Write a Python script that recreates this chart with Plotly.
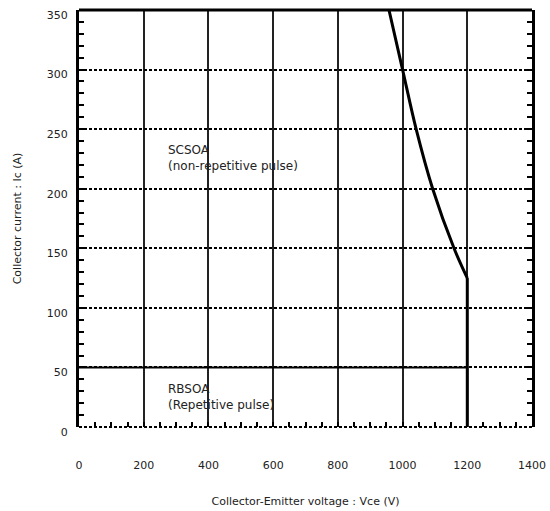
import plotly.graph_objects as go

# SCSOA boundary (non-repetitive pulse): curved part, then vertical drop at 1200 V
sc_curve_vce = [958, 1000, 1042, 1093, 1159, 1200]
sc_curve_ic = [350, 300, 250, 200, 150, 125]
sc_drop_vce = [1200, 1200]
sc_drop_ic = [125, 0]

# RBSOA boundary (repetitive pulse)
rb_vce = [0, 1200, 1200]
rb_ic = [50, 50, 0]

x_ticks = [0, 200, 400, 600, 800, 1000, 1200, 1400]
y_ticks = [0, 50, 100, 150, 200, 250, 300, 350]

FONT = "DejaVu Sans, Liberation Sans, Arial, sans-serif"
TXT = "#222222"

fig = go.Figure()
fig.add_trace(go.Scatter(x=rb_vce, y=rb_ic, mode="lines",
                         line=dict(color="black", width=2), showlegend=False,
                         hoverinfo="skip"))
fig.add_trace(go.Scatter(x=sc_curve_vce, y=sc_curve_ic, mode="lines",
                         line=dict(color="black", width=3, shape="spline", smoothing=1.0),
                         showlegend=False, hoverinfo="skip"))
fig.add_trace(go.Scatter(x=sc_drop_vce, y=sc_drop_ic, mode="lines",
                         line=dict(color="black", width=3), showlegend=False,
                         hoverinfo="skip"))

fig.add_annotation(x=270, y=226, xref="x", yref="y", xanchor="left", yanchor="middle",
                   align="left", showarrow=False,
                   text="SCSOA<br>(non-repetitive pulse)",
                   font=dict(family=FONT, size=12, color=TXT))
fig.add_annotation(x=270, y=25, xref="x", yref="y", xanchor="left", yanchor="middle",
                   align="left", showarrow=False,
                   text="RBSOA<br>(Repetitive pulse)",
                   font=dict(family=FONT, size=12, color=TXT))

# frame
fig.add_shape(type="line", xref="paper", yref="paper", x0=0, y0=1, x1=1, y1=1,
              line=dict(color="black", width=3), layer="above")
fig.add_shape(type="line", xref="paper", yref="paper", x0=0, y0=0, x1=1, y1=0,
              line=dict(color="black", width=2, dash="3px,2px"), layer="above")

fig.update_layout(
    width=550, height=511,
    margin=dict(l=79, r=18, t=10, b=84),
    plot_bgcolor="white", paper_bgcolor="white",
    font=dict(family=FONT, size=11, color=TXT),
    xaxis=dict(
        range=[0, 1400], tickvals=x_ticks, ticktext=[str(v) for v in x_ticks],
        showgrid=True, gridcolor="#222222", gridwidth=2,
        zeroline=False, showline=False, automargin=False,
        ticks="inside", ticklen=5, tickwidth=2, tickcolor="black",
        ticklabelstandoff=30,
        minor=dict(dtick=50, tick0=0, ticks="inside", ticklen=5, tickwidth=2,
                   tickcolor="black", showgrid=False),
        title=dict(text="Collector-Emitter voltage : Vce (V)", standoff=26,
                   font=dict(family=FONT, size=11, color=TXT)),
        tickfont=dict(family=FONT, size=11, color=TXT),
    ),
    yaxis=dict(
        range=[0, 350], tickvals=y_ticks, ticktext=[str(v) for v in y_ticks],
        showgrid=True, gridcolor="black", gridwidth=1.5, griddash="3px,2px",
        zeroline=False, showline=True, linecolor="black", linewidth=3,
        mirror="ticks", automargin=False,
        ticks="inside", ticklen=5, tickwidth=2, tickcolor="black",
        ticklabelstandoff=6, ticklabelshift=5,
        minor=dict(dtick=10, tick0=0, ticks="inside", ticklen=5, tickwidth=2,
                   tickcolor="black", showgrid=False),
        title=dict(text="Collector current : Ic (A)", standoff=23,
                   font=dict(family=FONT, size=11, color=TXT)),
        tickfont=dict(family=FONT, size=11, color=TXT),
    ),
)

fig.write_html("out.html", config={"displayModeBar": False},
               post_script="document.body.style.margin='0';")
